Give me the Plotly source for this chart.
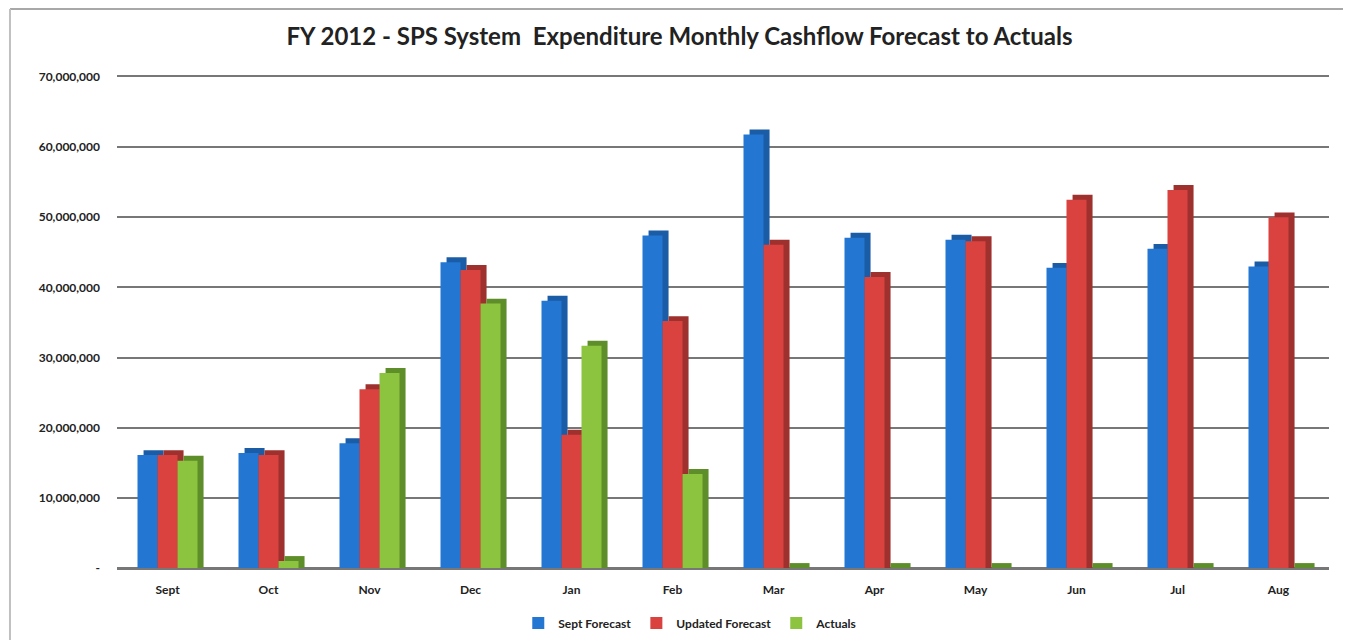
import plotly.graph_objects as go

months = ["Sept", "Oct", "Nov", "Dec", "Jan", "Feb", "Mar", "Apr", "May", "Jun", "Jul", "Aug"]
sept_forecast = [16.1e6, 16.4e6, 17.8e6, 43.6e6, 38.1e6, 47.4e6, 61.8e6, 47.1e6, 46.8e6, 42.8e6, 45.5e6, 43.0e6]
updated_forecast = [16.1e6, 16.1e6, 25.5e6, 42.5e6, 19.0e6, 35.2e6, 46.1e6, 41.5e6, 46.6e6, 52.5e6, 53.9e6, 50.0e6]
actuals = [15.3e6, 1.0e6, 27.8e6, 37.7e6, 31.7e6, 13.4e6, 0, 0, 0, 0, 0, 0]

series_names = ["Sept Forecast", "Updated Forecast", "Actuals"]
series_values = [sept_forecast, updated_forecast, actuals]
front_colors = ["#2376D1", "#D9423F", "#8CC43F"]
side_colors = ["#1B5CA6", "#9E312E", "#5E8E2A"]

tick_vals = [0, 10e6, 20e6, 30e6, 40e6, 50e6, 60e6, 70e6]
tick_text = ["-", "10,000,000", "20,000,000", "30,000,000", "40,000,000", "50,000,000", "60,000,000", "70,000,000"]

font_family = "Lato, 'Open Sans', sans-serif"
txt = "#222222"

bar_w = 0.198      # front face width (category units)
depth_x = 0.06     # pseudo-3D depth (category units)
depth_y = 0.7e6    # pseudo-3D rise (value units)

fig = go.Figure()
# pseudo-3D depth (side/top faces) drawn behind
for i, (name, vals) in enumerate(zip(series_names, series_values)):
    off = -1.5 * bar_w + i * bar_w
    fig.add_trace(go.Bar(x=months, y=[v + depth_y for v in vals], offset=off + depth_x, width=bar_w,
                         marker=dict(color=side_colors[i], line=dict(width=0)),
                         showlegend=False, hoverinfo="skip"))
# front faces
for i, (name, vals) in enumerate(zip(series_names, series_values)):
    off = -1.5 * bar_w + i * bar_w
    fig.add_trace(go.Bar(name="<b>%s</b>" % name, x=months, y=vals, offset=off, width=bar_w,
                         marker=dict(color=front_colors[i], line=dict(width=0))))

fig.update_layout(
    width=1343, height=632,
    paper_bgcolor="white", plot_bgcolor="white",
    margin=dict(l=109, r=22, t=69, b=72),
    barmode="overlay",
    title=dict(text="<b>FY 2012 - SPS System  Expenditure Monthly Cashflow Forecast to Actuals</b>",
               x=0.5, xanchor="center", y=0.954, yanchor="middle",
               font=dict(family=font_family, size=24, color=txt)),
    font=dict(family=font_family, color=txt),
    legend=dict(orientation="h", x=0.473, xanchor="center", yref="container", y=0.027, yanchor="middle",
                font=dict(size=12, color=txt), itemwidth=30, traceorder="normal"),
    showlegend=True,
)
fig.update_xaxes(showgrid=False, showline=True, mirror=True, linecolor="#777777", linewidth=1.5,
                 ticks="", ticklabelstandoff=10,
                 tickvals=months, ticktext=["<b>%s</b>" % m for m in months],
                 tickfont=dict(size=12, color=txt, family=font_family))
fig.update_yaxes(range=[0, 70e6], tickvals=tick_vals, ticktext=["<b>%s</b>" % t for t in tick_text],
                 showgrid=True, gridcolor="#777777", gridwidth=1.5,
                 zeroline=True, zerolinecolor="#777777", zerolinewidth=1.5,
                 ticks="", ticklabelstandoff=16,
                 tickfont=dict(size=12, color=txt, family=font_family))

# chart frame (top and left border lines)
fig.add_shape(type="line", xref="paper", yref="paper", x0=-0.0883, x1=1.02, y0=1.1385, y1=1.1385,
              line=dict(color="#A8A8A8", width=2))
fig.add_shape(type="line", xref="paper", yref="paper", x0=-0.0883, x1=-0.0883, y0=1.1385, y1=-0.15,
              line=dict(color="#C0C0C0", width=2))

fig.write_html("out.html")
